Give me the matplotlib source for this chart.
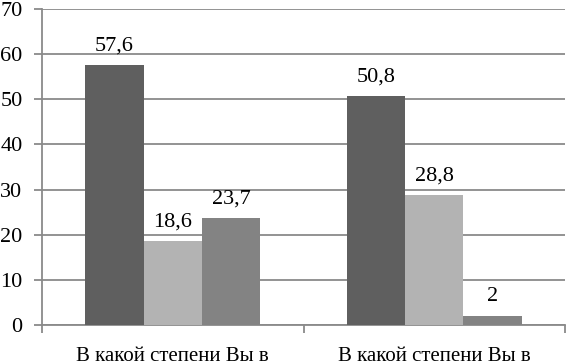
import matplotlib
matplotlib.use("Agg")
import matplotlib.pyplot as plt
import numpy as np

categories = ["В какой степени Вы в", "В какой степени Вы в"]
series_a = [57.6, 50.8]
series_b = [18.6, 28.8]
series_c = [23.7, 2]
labels_a = ["57,6", "50,8"]
labels_b = ["18,6", "28,8"]
labels_c = ["23,7", "2"]
colors = ["#5f5f5f", "#b3b3b3", "#838383"]
yticks = [0, 10, 20, 30, 40, 50, 60, 70]

plt.rcParams['font.family'] = ['Liberation Serif', 'DejaVu Serif']

fig = plt.figure(figsize=(5.66, 3.61), dpi=100)
ax = fig.add_axes([42/566, 1-325/361, (565-42)/566, (325-9)/361])

x = np.arange(len(categories))
w = 0.223
for i, (vals, labs, c) in enumerate(zip([series_a, series_b, series_c],
                                        [labels_a, labels_b, labels_c], colors)):
    pos = x + (i - 1) * w
    ax.bar(pos, vals, width=w, color=c, zorder=3)
    for p, v, l in zip(pos, vals, labs):
        ax.annotate(l, (p, v), xytext=(0, 10.5), textcoords="offset points",
                    ha="center", va="baseline", fontsize=16, color="black")

ax.set_xlim(-0.5, 1.5)
ax.set_ylim(0, 70)
ax.set_yticks(yticks)
ax.set_yticklabels([str(t) for t in yticks], fontsize=16)
ax.yaxis.grid(True, color="#8a8a8a", linewidth=1.3, zorder=0)
ax.set_axisbelow(True)

ax.set_xticks(x)
ax.set_xticklabels(categories, fontsize=15)
ax.set_xticks([-0.5, 0.5, 1.5], minor=True)
ax.tick_params(axis="x", which="major", length=0, pad=16)
ax.tick_params(axis="x", which="minor", length=6, color="#8a8a8a", width=1.3)
ax.tick_params(axis="y", length=6, color="#8a8a8a", width=1.3, pad=8)

for s in ["top", "right"]:
    ax.spines[s].set_visible(False)
for s in ["left", "bottom"]:
    ax.spines[s].set_color("#8a8a8a")
    ax.spines[s].set_linewidth(1.3)

fig.savefig("out.png", dpi=100)
